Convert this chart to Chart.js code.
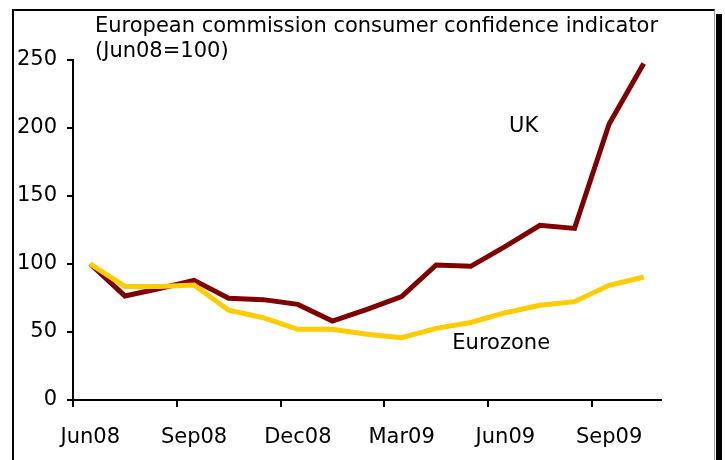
<!DOCTYPE html>
<html>
<head>
<meta charset="utf-8">
<script src="https://cdn.jsdelivr.net/npm/chart.js@4"></script>
<style>
  body { margin: 0; background: #fff; }
  #frame { position: absolute; left: 12px; top: 9px; width: 700px; height: 470px;
           border-left: 2px solid #000; border-top: 2px solid #000; border-right: 1px solid #999; }
  #shadow { position: absolute; left: 716px; top: 14px; width: 6px; height: 446px; background: #000; }
  #wrap { position: absolute; left: 0; top: 0; width: 725px; height: 460px; }
</style>
</head>
<body>
<div id="frame"></div>
<div id="shadow"></div>
<div id="wrap"><canvas id="lineChart" width="725" height="460"></canvas></div>
<script>
// monthly, Jun08 = 100
const months = ['Jun08','Jul08','Aug08','Sep08','Oct08','Nov08','Dec08','Jan09','Feb09',
                'Mar09','Apr09','May09','Jun09','Jul09','Aug09','Sep09','Oct09'];
const ukValues = [100, 76.5, 82, 88, 74.8, 73.8, 70.3, 58, 66.7, 76, 99.3, 98.3, 113, 128.4, 126.2, 203, 247.5];
const euroValues = [100, 83.5, 83.5, 84.5, 66, 60.5, 52, 52, 48.3, 45.8, 52.7, 57, 64.2, 69.6, 72.3, 84.3, 90.4];
const yTicks = [0, 50, 100, 150, 200, 250];

const titleLines = ['European commission consumer confidence indicator', '(Jun08=100)'];

const FONT = 'Verdana, "DejaVu Sans", sans-serif';

// every third month gets a tick and a label
function everyThird(ctx) {
  if (ctx.index === undefined) return 'rgba(0,0,0,0)';
  return ctx.index % 3 === 0 ? '#000' : 'rgba(0,0,0,0)';
}

const textPlugin = {
  id: 'texts',
  afterDraw(chart) {
    const c = chart.ctx;
    const x = chart.scales.x, y = chart.scales.y;
    c.save();
    c.fillStyle = '#000';
    c.textBaseline = 'alphabetic';
    c.textAlign = 'left';
    c.font = '21px ' + FONT;
    c.fillText(titleLines[0], 95, 32);
    c.fillText(titleLines[1], 95, 57);

    c.textAlign = 'center';
    c.textBaseline = 'middle';
    c.fillText('UK', x.getPixelForValue(12.53), y.getPixelForValue(201));
    c.fillText('Eurozone', x.getPixelForValue(11.88), y.getPixelForValue(41.5));
    c.restore();
  }
};

Chart.defaults.font.family = FONT;
Chart.defaults.font.size = 21;
Chart.defaults.color = '#000';

const lineChart = new Chart(document.getElementById('lineChart'), {
  type: 'line',
  data: {
    labels: months,
    datasets: [{
      label: 'Eurozone',
      data: euroValues,
      borderColor: '#FFCC00',
      borderWidth: 5,
      pointRadius: 0,
      tension: 0
    }, {
      label: 'UK',
      data: ukValues,
      borderColor: '#800000',
      borderWidth: 5,
      pointRadius: 0,
      tension: 0
    }]
  },
  options: {
    responsive: false,
    animation: false,
    layout: { padding: { top: 60, right: 64, left: 0, bottom: 0 } },
    plugins: { legend: { display: false }, tooltip: { enabled: false } },
    scales: {
      x: {
        offset: true,
        grid: { offset: true, drawOnChartArea: false, tickLength: 7, lineWidth: 2,
                color: everyThird, tickColor: everyThird },
        border: { display: true, color: '#000', width: 2 },
        ticks: {
          autoSkip: false, maxRotation: 0, padding: 18,
          callback: (v, i) => i % 3 === 0 ? months[i] : ''
        },
        afterFit: s => { s.height = 60; }
      },
      y: {
        min: 0,
        max: 250,
        afterBuildTicks: s => { s.ticks = yTicks.map(v => ({ value: v })); },
        grid: { drawOnChartArea: false, tickLength: 6, lineWidth: 2, color: '#000' },
        border: { display: true, color: '#000', width: 2 },
        ticks: { padding: 10 },
        afterFit: s => { s.width = 73; }
      }
    }
  },
  plugins: [textPlugin]
});
</script>
</body>
</html>
